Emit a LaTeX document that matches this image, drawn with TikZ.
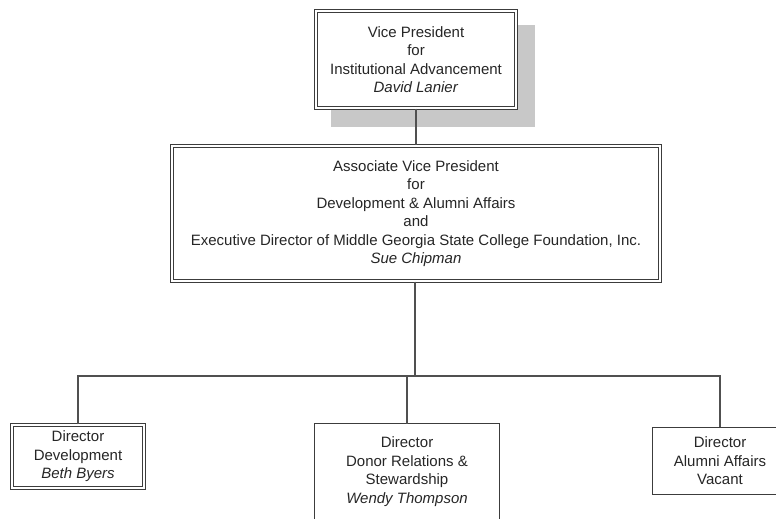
\documentclass[tikz,border=0pt]{standalone}
\usepackage{fontspec}
\setmainfont{Liberation Sans}
\usepackage{tikz}
\usetikzlibrary{shapes,arrows,positioning,calc}

\definecolor{linegray}{HTML}{3C3C3C}
\definecolor{shadowgray}{HTML}{C8C8C8}

\tikzset{
  orgbox/.style={fill=white, align=center, inner sep=2pt,
    font=\fontsize{15}{18.5}\selectfont, text=black!85},
  dblline/.style={draw=linegray, double=white, double distance=1.5pt, line width=1.1pt},
  dblbox/.style={orgbox, dblline},
  sglbox/.style={orgbox, draw=linegray, line width=1pt},
  link/.style={draw=linegray!90, line width=1.3pt}
}

\begin{document}
\begin{tikzpicture}[x=1pt,y=-1pt]
  \useasboundingbox (0,0) rectangle (776,519);
  \clip (0,0) rectangle (776,519);
  % shadow behind the top box
  \fill[shadowgray] (331,25) rectangle (535,127);
  % boxes
  \node[dblbox, minimum width=200.3pt, minimum height=97.3pt] (vp) at (416,59.5)
    {Vice President\\for\\Institutional Advancement\\\textit{David Lanier}};
  \node[dblbox, minimum width=488.3pt, minimum height=135.3pt] (avp) at (416,213.5)
    {Associate Vice President\\for\\Development \& Alumni Affairs\\and\\
     Executive Director of Middle Georgia State College Foundation, Inc.\\\textit{Sue Chipman}};
  \node[dblbox, minimum width=132.3pt, minimum height=63.3pt] (dev) at (78,456.5)
    {Director\\Development\\\textit{Beth Byers}};
  \node[orgbox, fill=none, minimum width=185pt, inner ysep=13pt, anchor=north] (don) at (407,423.5)
    {Director\\Donor Relations \&\\Stewardship\\\textit{Wendy Thompson}};
  % frame runs past the lower edge
  \draw[line width=1pt, draw=linegray] ($(don.south west)+(0,20)$) |- (don.north east) -- ++(0,120);
  \node[sglbox, minimum width=135pt, minimum height=67pt] (alum) at (720,461)
    {Director\\Alumni Affairs\\Vacant};
  % connectors
  \coordinate (bus) at (415,376);
  \draw[link] (vp.south) -- (avp.north);
  \draw[link] (avp.south -| bus) -- (bus);
  \draw[link] (dev.north) |- (alum.north |- bus) -- (alum.north);
  \draw[link] (don.north) -- (don.north |- bus);
\end{tikzpicture}
\end{document}
